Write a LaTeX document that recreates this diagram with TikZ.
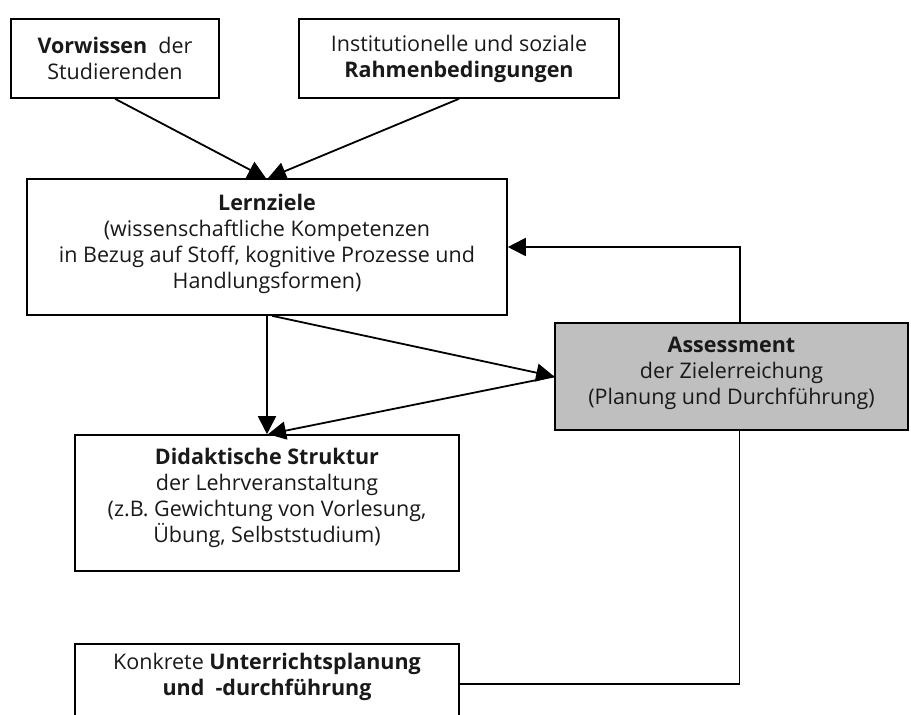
\documentclass[tikz,border=0pt]{standalone}
\usepackage{fontspec}
\setmainfont{Open Sans}
\usetikzlibrary{arrows.meta}
\newcommand{\dn}[1]{\rule[-#1pt]{0pt}{#1pt}}
\begin{document}
\begin{tikzpicture}[x=1pt,y=-1pt,
  box/.style={draw=black,line width=1.6pt,align=center,inner sep=0pt,
    font=\fontsize{21.5}{26}\selectfont,text=black!90},
  arr/.style={line width=1.8pt,-{Triangle[length=18pt,width=18pt]}},
  ln/.style={line width=1.8pt}]
\useasboundingbox (0,0) rectangle (911,715);
\clip (0,0) rectangle (911,715);
\node[box,minimum width=208pt,minimum height=79pt] (v) at (115,58.5)
  {\textbf{Vorwissen}\ \ der\\Studierenden};
\node[box,minimum width=320pt,minimum height=79pt] (r) at (459,58.5)
  {Institutionelle und soziale\\\textbf{Rahmenbedingungen}};
\node[box,minimum width=480pt,minimum height=136pt] (l) at (267,247)
  {\textbf{Lernziele}\\(wissenschaftliche Kompetenzen\\in Bezug auf Stoff, kognitive Prozesse und\\Handlungsformen)\dn{11}};
\node[box,fill=black!25,minimum width=353pt,minimum height=107pt] (a) at (731.5,376.5)
  {\textbf{Assessment}\\der Zielerreichung\\(Planung und Durchführung)\dn{11}};
\node[box,minimum width=384pt,minimum height=136pt] (d) at (267,503)
  {\textbf{Didaktische Struktur}\\der Lehrveranstaltung\\(z.B. Gewichtung von Vorlesung,\\Übung, Selbststudium)\dn{15}};
\node[box,minimum width=384pt,minimum height=80pt,anchor=north] (k) at (267,643)
  {Konkrete \textbf{Unterrichtsplanung}\\\textbf{und\ \ -durchführung}\dn{19}};
\draw[arr] (v.south) -- ([xshift=-1pt]l.north);
\draw[arr] (r.south) -- ([xshift=1pt]l.north);
\draw[arr] (l.south -| d.north) -- (d.north);
\draw[arr] ([xshift=5pt]l.south) -- (a.west);
\draw[arr] (a.west) -- ([xshift=1pt]d.north);
\draw[arr] ([xshift=8.5pt]a.north) |- (l.east);
\draw[ln] (k.east) -| ([xshift=8pt]a.south);
\end{tikzpicture}
\end{document}
